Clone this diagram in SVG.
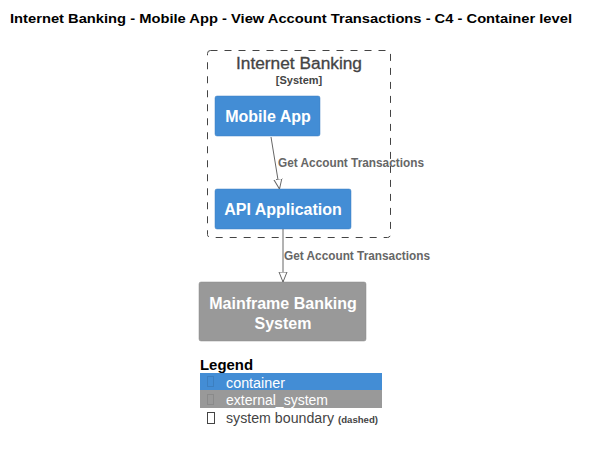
<svg xmlns="http://www.w3.org/2000/svg" width="589" height="452" viewBox="0 0 589 452">
<style>
text{font-family:"Liberation Sans",Arial,sans-serif}
.title{font-size:13.5px;font-weight:bold;fill:#000}
.cont{fill:#438DD5;stroke:#3C7FC0;stroke-width:0.5}
.ext{fill:#999999;stroke:#8A8A8A;stroke-width:0.5}
.nt{font-size:16px;font-weight:bold;fill:#FFFFFF;text-anchor:middle}
.lbl{font-size:12px;font-weight:bold;fill:#666666}
.edge{stroke:#666666;stroke-width:1;fill:none}
.lg{font-size:14px}
</style>
<defs>
<marker id="arr" viewBox="0 0 10 10" refX="10" refY="5" markerWidth="10" markerHeight="10" markerUnits="userSpaceOnUse" orient="auto">
<path d="M0,1 L10,5 L0,9 Z" fill="#FFFFFF" stroke="#666666" stroke-width="1"/>
</marker>
</defs>
<rect width="589" height="452" fill="#FFFFFF"/>
<text class="title" x="10" y="23" textLength="562" lengthAdjust="spacingAndGlyphs">Internet Banking - Mobile App - View Account Transactions - C4 - Container level</text>
<g id="boundary-internet-banking">
<rect x="207.5" y="50.5" width="183" height="187" rx="3" fill="none" stroke="#444444" stroke-width="1" stroke-dasharray="7,7"/>
<text x="236" y="69" font-size="16px" fill="#444444" stroke="#444444" stroke-width="0.3" textLength="126" lengthAdjust="spacingAndGlyphs">Internet Banking</text>
<text x="299" y="84" font-size="11px" font-weight="bold" fill="#444444" text-anchor="middle">[System]</text>
</g>
<g id="mobile-app">
<rect class="cont" x="215" y="96" width="105" height="40" rx="2"/>
<text class="nt" x="268" y="122">Mobile App</text>
</g>
<g id="api-application">
<rect class="cont" x="215" y="189" width="136" height="40" rx="2"/>
<text class="nt" x="283" y="215">API Application</text>
</g>
<g id="mainframe">
<rect class="ext" x="199" y="282" width="167" height="59" rx="2"/>
<text class="nt" x="283" y="309">Mainframe Banking</text>
<text class="nt" x="283" y="329">System</text>
</g>
<g id="connectors">
<path class="edge" d="M271,137 L279.5,189" marker-end="url(#arr)"/>
<text class="lbl" x="278" y="167" textLength="146" lengthAdjust="spacingAndGlyphs">Get Account Transactions</text>
<path class="edge" d="M283,229 L283,282" marker-end="url(#arr)"/>
<text class="lbl" x="284" y="260" textLength="146" lengthAdjust="spacingAndGlyphs">Get Account Transactions</text>
</g>
<g id="legend">
<text x="200" y="370" font-size="14px" font-weight="bold" fill="#000" textLength="53" lengthAdjust="spacingAndGlyphs">Legend</text>
<rect x="200" y="373" width="182" height="17" fill="#438DD5"/>
<rect x="207.5" y="376.5" width="6" height="10" fill="none" stroke="#3C7FC0" stroke-width="1"/>
<text class="lg" x="226" y="388" fill="#FFFFFF" textLength="59" lengthAdjust="spacingAndGlyphs">container</text>
<rect x="200" y="390" width="182" height="18" fill="#999999"/>
<rect x="207.5" y="394.5" width="6" height="10" fill="none" stroke="#8A8A8A" stroke-width="1"/>
<text class="lg" x="226" y="405" fill="#FFFFFF" textLength="102" lengthAdjust="spacingAndGlyphs">external_system</text>
<rect x="207.5" y="412.5" width="7" height="11" fill="none" stroke="#444444" stroke-width="1"/>
<text class="lg" x="226" y="423" fill="#444444" textLength="108" lengthAdjust="spacingAndGlyphs">system boundary</text>
<text x="338" y="423" font-size="9px" font-weight="bold" fill="#444444" textLength="40" lengthAdjust="spacingAndGlyphs">(dashed)</text>
</g>
</svg>
